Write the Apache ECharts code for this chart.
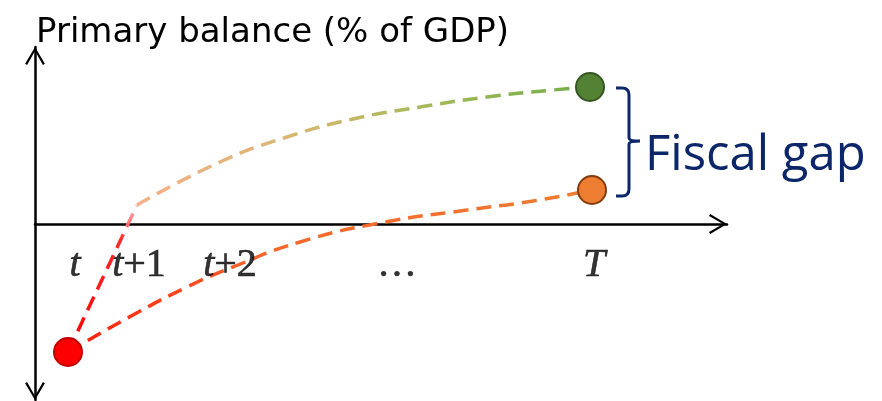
<!DOCTYPE html>
<html><head><meta charset="utf-8">
<script src="https://cdn.jsdelivr.net/npm/echarts@6/dist/echarts.min.js"></script>
<style>html,body{margin:0;padding:0;background:#fff}#c{width:882px;height:401px}</style>
</head><body><div id="c"></div>
<script>
// ---- data (horizontal / vertical units of the schematic; 0 = axes) ----
const titleText = 'Primary balance (% of GDP)';
const gapText = 'Fiscal gap';
const tickLabels = ['t', 't+1', 't+2', '…', 'T'];
const tickX = [40, 104, 195, 362, 559];
const tickY = -41;
const startPoint = [33, -128];
const kinkPoint = [102, 19];
const upperX = [102, 185, 252, 318, 385, 452, 518, 555];
const upperY = [19, 62, 87, 105, 117, 127, 134, 137];
const lowerX = [33, 98, 152, 198, 265, 345, 432, 498, 557];
const lowerY = [-128, -91, -63, -43, -18, 1, 14, 23, 34];
const redDot = [33, -128];
const greenDot = [555, 137];
const orangeDot = [557, 34];
const braceX = [581, 594, 605];
const braceTop = 136, braceTip = 83, braceBottom = 28;

const navy = '#0B2769';
const arrowPath = 'path://M10,0 L20,17 L18,18.2 L10,4 L2,18.2 L0,17 Z';
const dash = [15, 8];

function zip(xs, ys) { return xs.map((x, i) => [x, ys[i]]); }
function lbl(s) {
  const m = s.match(/^([tT])(.*)$/);
  if (!m) return '{n|' + s + '}';
  return '{i|' + m[1] + '}' + (m[2] ? '{n|' + m[2] + '}' : '');
}

const chart = echarts.init(document.getElementById('c'));
chart.setOption({
  animation: false,
  backgroundColor: '#fff',
  title: {
    text: titleText, left: 31, top: 11,
    textStyle: { fontFamily: 'DejaVu Sans', fontSize: 34, fontWeight: 'normal', color: '#000' }
  },
  grid: { left: 35, right: 155, top: 47, bottom: 1 },
  xAxis: {
    type: 'value', min: 0, max: 692,
    axisLine: { show: true, symbol: ['none', arrowPath], symbolSize: [20, 18], symbolOffset: [0, -9],
      lineStyle: { color: '#000', width: 2.5 } },
    axisTick: { show: false }, axisLabel: { show: false }, splitLine: { show: false }
  },
  yAxis: {
    type: 'value', min: -176, max: 177,
    axisLine: { show: true, symbol: [arrowPath, arrowPath], symbolSize: [20, 18], symbolOffset: [9, -9],
      lineStyle: { color: '#000', width: 2.5 } },
    axisTick: { show: false }, axisLabel: { show: false }, splitLine: { show: false }
  },
  series: [
    {
      type: 'line', data: [startPoint, kinkPoint], symbol: 'none', z: 2,
      lineStyle: { width: 3.5, type: dash,
        color: { type: 'linear', x: 0, y: 1, x2: 0, y2: 0,
          colorStops: [{ offset: 0, color: '#FF0000' }, { offset: 0.75, color: '#FF2A2A' }, { offset: 1, color: '#FBC8C8' }] } }
    },
    {
      type: 'line', data: zip(upperX, upperY), symbol: 'none', smooth: true, z: 2,
      lineStyle: { width: 3.5, type: dash,
        color: { type: 'linear', x: 0, y: 0, x2: 1, y2: 0,
          colorStops: [{ offset: 0, color: '#F6B08A' }, { offset: 0.35, color: '#D8B670' }, { offset: 0.65, color: '#A3B957' }, { offset: 1, color: '#70AD47' }] } }
    },
    {
      type: 'line', data: zip(lowerX, lowerY), symbol: 'none', smooth: true, z: 2,
      lineStyle: { width: 3.5, type: dash,
        color: { type: 'linear', x: 0, y: 0, x2: 1, y2: 0,
          colorStops: [{ offset: 0, color: '#FF1A0A' }, { offset: 0.35, color: '#F8642B' }, { offset: 1, color: '#ED7D31' }] } }
    },
    {
      type: 'scatter', symbolSize: 28, z: 5,
      data: [
        { value: redDot, itemStyle: { color: '#FF0000', borderColor: '#C00000', borderWidth: 2, opacity: 1 } },
        { value: greenDot, itemStyle: { color: '#548235', borderColor: '#375623', borderWidth: 2, opacity: 1 } },
        { value: orangeDot, itemStyle: { color: '#ED7D31', borderColor: '#843C0C', borderWidth: 2, opacity: 1 } }
      ]
    },
    {
      type: 'scatter', symbolSize: 0, z: 6, silent: true,
      itemStyle: { color: 'rgba(0,0,0,0)' },
      data: tickLabels.map((s, i) => [tickX[i], tickY, s]),
      label: {
        show: true, position: 'inside', align: 'center', verticalAlign: 'middle',
        color: '#000', textBorderColor: '#000', textBorderWidth: 0.6,
        formatter: p => lbl(p.data[2]),
        rich: {
          i: { fontFamily: 'Liberation Serif', fontStyle: 'italic', fontSize: 40, color: '#000', textBorderColor: '#000', textBorderWidth: 0.6 },
          n: { fontFamily: 'Liberation Serif', fontSize: 40, color: '#000', textBorderColor: '#000', textBorderWidth: 0.6 }
        }
      }
    },
    {
      type: 'custom', clip: false, z: 4, silent: true,
      data: [[braceX[1], braceTip]],
      renderItem: function (params, api) {
        const a = api.coord([braceX[0], braceTop]);
        const b = api.coord([braceX[1], braceTip]);
        const c = api.coord([braceX[2], braceBottom]);
        const xL = a[0], xV = b[0], xT = c[0], yT = a[1], yM = b[1], yB = c[1];
        const r = 7;
        const d = 'M' + xL + ',' + yT + ' L' + (xV - r) + ',' + yT + ' Q' + xV + ',' + yT + ' ' + xV + ',' + (yT + r) +
          ' L' + xV + ',' + (yM - 3) + ' Q' + xV + ',' + yM + ' ' + xT + ',' + yM +
          ' Q' + xV + ',' + yM + ' ' + xV + ',' + (yM + 3) +
          ' L' + xV + ',' + (yB - r) + ' Q' + xV + ',' + yB + ' ' + (xV - r) + ',' + yB + ' L' + xL + ',' + yB;
        return {
          type: 'group',
          children: [
            { type: 'path', shape: { pathData: d }, style: { fill: 'none', stroke: navy, lineWidth: 3 } },
            { type: 'text', x: xT + 5, y: yM + 15,
              style: { text: gapText, fontFamily: 'Open Sans', fontSize: 49, fill: navy, align: 'left', verticalAlign: 'middle' } }
          ]
        };
      }
    }
  ]
});
</script>
</body></html>
